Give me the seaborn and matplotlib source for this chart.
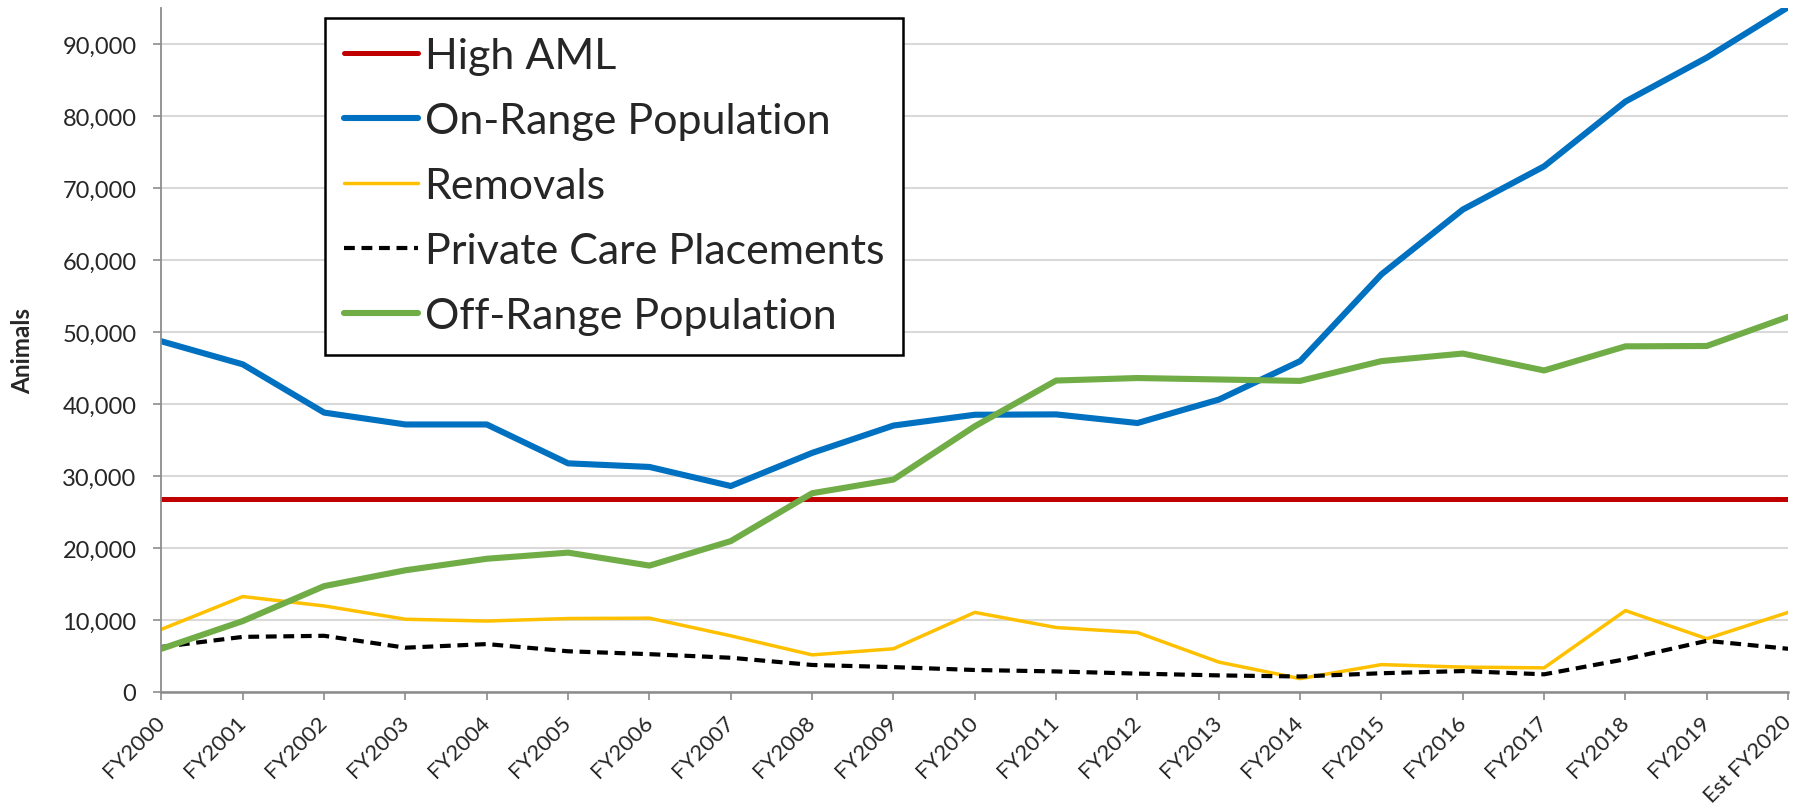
import pandas as pd
import matplotlib
matplotlib.use("Agg")
import matplotlib.pyplot as plt
from matplotlib.ticker import FuncFormatter
import seaborn as sns

# Values
years = ["FY2000", "FY2001", "FY2002", "FY2003", "FY2004", "FY2005", "FY2006",
         "FY2007", "FY2008", "FY2009", "FY2010", "FY2011", "FY2012", "FY2013",
         "FY2014", "FY2015", "FY2016", "FY2017", "FY2018", "FY2019", "Est FY2020"]
high_aml = [26785, 26785, 26785, 26785, 26785, 26785, 26785, 26785, 26785, 26785, 26785,
            26785, 26785, 26785, 26785, 26785, 26785, 26785, 26785, 26785, 26785]
on_range = [48700, 45500, 38800, 37150, 37150, 31750, 31250, 28600, 33200, 37000, 38500,
            38550, 37350, 40600, 45950, 58000, 67000, 73000, 82000, 88100, 95100]
removals = [8700, 13250, 11950, 10100, 9850, 10200, 10250, 7800, 5150, 6000, 11050,
            8950, 8250, 4150, 1850, 3800, 3450, 3350, 11300, 7400, 11050]
private_care = [6250, 7650, 7800, 6150, 6650, 5650, 5250, 4750, 3750, 3450, 3050,
                2850, 2550, 2300, 2150, 2600, 2900, 2450, 4550, 7100, 6000]
off_range = [6000, 9850, 14700, 16900, 18500, 19350, 17550, 20950, 27600, 29500, 36900,
             43250, 43600, 43400, 43200, 45950, 47000, 44650, 48000, 48050, 52100]

df = pd.DataFrame({
    "year": years,
    "High AML": high_aml,
    "On-Range Population": on_range,
    "Removals": removals,
    "Private Care Placements": private_care,
    "Off-Range Population": off_range,
})

sns.set_theme(style="white")
plt.rcParams["font.family"] = ["Lato", "DejaVu Sans"]

fig, ax = plt.subplots(figsize=(18.08, 8.12), dpi=100)
fig.subplots_adjust(left=0.0893, right=0.989, bottom=0.1466, top=0.989)

styles = [
    ("High AML", "#C00000", 3.6, "-"),
    ("On-Range Population", "#0070C0", 4.4, "-"),
    ("Removals", "#FFC000", 2.5, "-"),
    ("Private Care Placements", "#000000", 3.0, (0, (2.6, 1.6))),
    ("Off-Range Population", "#70AD47", 4.4, "-"),
]
for name, color, lw, ls in styles:
    sns.lineplot(data=df, x="year", y=name, ax=ax, color=color, linewidth=lw,
                 linestyle=ls, label=name, solid_capstyle="round", sort=False)

ax.set_xlim(0, len(years) - 1)
ax.set_ylim(0, 95000)
ax.set_yticks(range(0, 90001, 10000))
ax.yaxis.set_major_formatter(FuncFormatter(lambda v, p: f"{int(v):,}"))
ax.grid(axis="y", color="#D9D9D9", linewidth=1.5)
ax.grid(axis="x", visible=False)
ax.set_axisbelow(True)

for side in ["top", "right"]:
    ax.spines[side].set_visible(False)
ax.spines["left"].set_color("#8C8C8C")
ax.spines["left"].set_linewidth(1.3)
ax.spines["bottom"].set_color("#8C8C8C")
ax.spines["bottom"].set_linewidth(1.8)

ax.tick_params(axis="y", direction="out", length=6, width=1.2, color="#8C8C8C",
               labelsize=17, pad=12, left=True)
ax.tick_params(axis="x", direction="out", length=6, width=1.2, color="#8C8C8C",
               labelsize=16, pad=13, bottom=True)
plt.setp(ax.get_xticklabels(), rotation=45, ha="right", va="center",
         rotation_mode="anchor")

ax.set_xlabel("")
ax.set_ylabel("Animals", fontsize=17.5, fontweight="bold", labelpad=20)

leg = ax.legend(loc="upper left", bbox_to_anchor=(0.1006, 0.986), borderaxespad=0,
                fontsize=31, frameon=True, fancybox=False, framealpha=1,
                edgecolor="black", handlelength=1.7, handletextpad=0.16,
                labelspacing=0.63, borderpad=0.45)
leg.get_frame().set_linewidth(1.8)

plt.savefig("out.png", dpi=100)
